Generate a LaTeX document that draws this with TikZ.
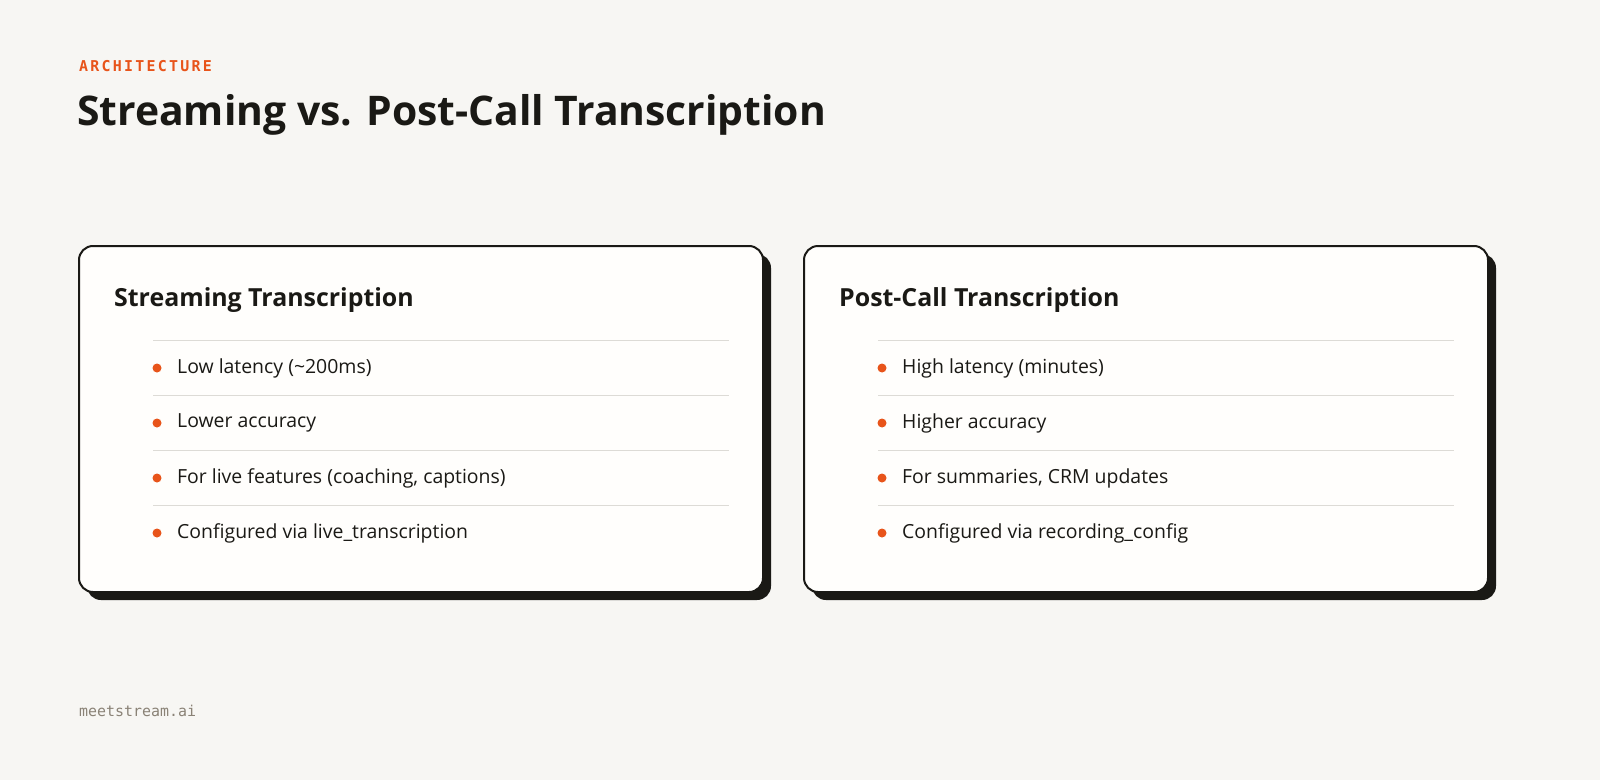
\documentclass[tikz,border=0pt]{standalone}
\usepackage{fontspec}
\setmainfont{Open Sans}
\setmonofont{DejaVu Sans Mono}
\begin{document}
\definecolor{bg}{HTML}{F7F6F3}
\definecolor{org}{HTML}{E8541A}
\definecolor{ink}{HTML}{1A1915}
\definecolor{card}{HTML}{FFFEFC}
\definecolor{sep}{HTML}{DDDBD6}
\definecolor{foot}{HTML}{8A8276}
\newcommand\mycard[7]{%
  \fill[shadowbox] (87+#1,254) rectangle (771+#1,600);
  \draw[cardbox] (79+#1,246) rectangle (763+#1,592);
  \node[head] (h#2) at (114+#1,300) {#3};
  \foreach \yy in {340,395,450,505} \draw[sepl] (153+#1,\yy) -- (729+#1,\yy);
  \foreach \i in {1,2,3,4}{
    \pgfmathsetmacro\yc{313+55*\i}
    \node[dot] (d#2\i) at (157+#1,\yc) {};
  }
  \node[item] (t#2a) at (177+#1,368) {#4};
  \node[item] (t#2b) at (177+#1,423) {#5};
  \node[item] (t#2c) at (177+#1,478) {#6};
  \node[item] (t#2d) at (177+#1,533) {#7};
}
\begin{tikzpicture}[x=1bp,y=-1bp,
  cardbox/.style={draw=ink,line width=2bp,fill=card,rounded corners=14bp},
  shadowbox/.style={fill=ink,rounded corners=14bp},
  head/.style={anchor=west,font=\fontsize{25}{30}\selectfont\bfseries,text=ink,inner sep=0},
  item/.style={anchor=west,font=\fontsize{19.5}{24}\selectfont,text=ink,inner sep=0},
  sepl/.style={draw=sep,line width=1bp},
  dot/.style={circle,fill=org,inner sep=0,minimum size=9bp}]
\fill[bg] (0,0) rectangle (1600,780);
\useasboundingbox (0,0) rectangle (1600,780);
\node[anchor=west,inner sep=0,text=org,font=\ttfamily\bfseries\fontsize{15}{18}\selectfont\addfontfeature{LetterSpace=15}] (kick) at (79,66) {ARCHITECTURE};
\node[anchor=west,inner sep=0,text=ink,font=\fontsize{41}{48}\selectfont\bfseries] (title) at (77,115) {Streaming vs. Post-Call Transcription};
\node[anchor=west,inner sep=0,text=foot,font=\ttfamily\fontsize{15}{18}\selectfont] (footer) at (79,711) {meetstream.ai};
\mycard{0}{L}{Streaming Transcription}{Low latency (\textasciitilde200ms)}{Lower accuracy}{For live features (coaching, captions)}{Configured via live\_transcription}
\mycard{725}{R}{Post-Call Transcription}{High latency (minutes)}{Higher accuracy}{For summaries, CRM updates}{Configured via recording\_config}
\end{tikzpicture}
\end{document}
